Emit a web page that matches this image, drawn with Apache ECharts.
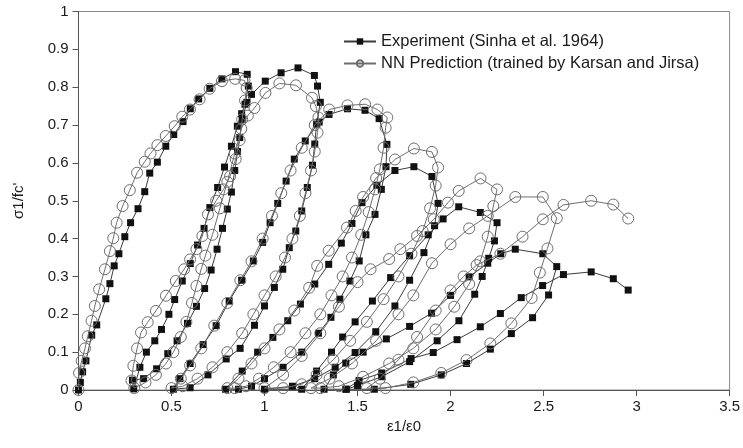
<!DOCTYPE html>
<html><head><meta charset="utf-8">
<script src="https://cdn.jsdelivr.net/npm/echarts@6/dist/echarts.min.js"></script>
<style>html,body{margin:0;padding:0;background:#fff}#c{width:743px;height:448px}</style>
</head><body><div id="c"></div>
<script>
// x = ε1/ε0, y = σ1/fc'
const xTicks = [0, 0.5, 1, 1.5, 2, 2.5, 3, 3.5];
const yTicks = [0, 0.1, 0.2, 0.3, 0.4, 0.5, 0.6, 0.7, 0.8, 0.9, 1];
const seriesNames = ["Experiment (Sinha et al. 1964)", "NN Prediction (trained by Karsan and Jirsa)"];

// ---- Experiment (Sinha et al. 1964) ----
const expRise = [[0,0],[0.01,0.02],[0.022,0.048],[0.04,0.077],[0.071,0.145],[0.098,0.172],[0.147,0.241],[0.169,0.281],[0.192,0.328],[0.217,0.36],[0.249,0.405],[0.28,0.442],[0.32,0.479],[0.356,0.524],[0.383,0.573],[0.424,0.602],[0.469,0.644],[0.512,0.675],[0.562,0.709],[0.601,0.743],[0.646,0.769],[0.706,0.797],[0.771,0.822],[0.844,0.841],[0.907,0.834]];
const expUnload1 = [[0.913,0.803],[0.895,0.755],[0.877,0.73],[0.854,0.697],[0.822,0.644],[0.785,0.589],[0.748,0.535],[0.706,0.482],[0.675,0.427],[0.64,0.383],[0.601,0.334],[0.558,0.288],[0.517,0.239],[0.486,0.2],[0.446,0.16],[0.41,0.13],[0.365,0.1],[0.33,0.06],[0.297,0.003]];
const expReload1 = [[0.29,0.026],[0.35,0.03],[0.42,0.056],[0.48,0.096],[0.53,0.13],[0.586,0.176],[0.634,0.221],[0.678,0.268],[0.713,0.317],[0.745,0.372],[0.774,0.427],[0.8,0.478],[0.822,0.523],[0.84,0.58],[0.855,0.63],[0.867,0.667],[0.88,0.715],[0.905,0.76],[0.93,0.781]];
const expPeak2 = [[1.004,0.816],[1.089,0.838],[1.18,0.851],[1.268,0.831],[1.285,0.803],[1.3,0.76]];
const expUnload2 = [[1.28,0.702],[1.27,0.65],[1.258,0.594],[1.23,0.535],[1.2,0.473],[1.168,0.42],[1.133,0.376],[1.098,0.319],[1.053,0.271],[1.0,0.222],[0.946,0.171],[0.869,0.11],[0.794,0.082],[0.696,0.04],[0.6,0.006],[0.51,0.002]];
const expReload2 = [[0.545,0.03],[0.6,0.07],[0.67,0.12],[0.74,0.17],[0.81,0.235],[0.877,0.29],[0.94,0.341],[0.99,0.39],[1.03,0.442],[1.071,0.493],[1.116,0.552],[1.16,0.61],[1.219,0.658],[1.294,0.708],[1.347,0.728]];
const expPeak3 = [[1.446,0.743],[1.54,0.739],[1.616,0.717],[1.658,0.649]];
const expUnload3 = [[1.653,0.59],[1.628,0.53],[1.594,0.464],[1.545,0.41],[1.509,0.341],[1.459,0.288],[1.405,0.24],[1.357,0.192],[1.29,0.15],[1.2,0.1],[1.1,0.06],[1.0,0.03],[0.93,0.01],[0.86,0.002]];
const expReload3 = [[0.79,0.002],[0.88,0.05],[0.963,0.1],[1.045,0.139],[1.125,0.183],[1.193,0.227],[1.27,0.28],[1.345,0.332],[1.413,0.388],[1.47,0.44],[1.524,0.495],[1.604,0.541],[1.701,0.58]];
const expPeak4 = [[1.803,0.59],[1.9,0.564],[1.933,0.493]];
const expUnload4 = [[1.914,0.434],[1.857,0.363],[1.78,0.29],[1.701,0.222],[1.598,0.154],[1.487,0.099],[1.38,0.06],[1.27,0.03],[1.15,0.01],[1.0,0.002]];
const expReload4 = [[1.2,0.002],[1.28,0.05],[1.36,0.1],[1.42,0.14],[1.487,0.18],[1.58,0.235],[1.678,0.297],[1.78,0.355],[1.88,0.41],[1.96,0.452],[2.044,0.484]];
const expPeak5 = [[2.16,0.469],[2.25,0.442]];
const expUnload5 = [[2.236,0.394],[2.205,0.348],[2.17,0.3],[2.13,0.253],[2.045,0.183],[1.928,0.13],[1.78,0.075],[1.63,0.035],[1.5,0.012],[1.44,0.002]];
const expReload5 = [[1.32,0.002],[1.37,0.04],[1.437,0.071],[1.53,0.1],[1.655,0.135],[1.78,0.168],[1.898,0.203],[2.0,0.25],[2.1,0.299],[2.2,0.335],[2.27,0.36],[2.348,0.372]];
const expPeak6 = [[2.496,0.36],[2.571,0.326]];
const expUnload6 = [[2.527,0.251],[2.441,0.191],[2.327,0.149],[2.214,0.108],[2.086,0.07],[1.95,0.04],[1.786,0.015],[1.59,0.002]];
const expReload6 = [[1.437,0.002],[1.508,0.025],[1.63,0.045],[1.788,0.083],[1.907,0.099],[2.035,0.133],[2.16,0.167],[2.268,0.202],[2.38,0.244],[2.495,0.276],[2.607,0.305]];
const expTail = [[2.756,0.312],[2.875,0.294],[2.955,0.264]];

// ---- NN Prediction (trained by Karsan and Jirsa) ----
const nnRise = [[0,0],[0.003,0.045],[0.017,0.077],[0.035,0.11],[0.05,0.142],[0.07,0.183],[0.088,0.222],[0.111,0.266],[0.142,0.319],[0.169,0.367],[0.187,0.401],[0.205,0.442],[0.237,0.486],[0.276,0.528],[0.315,0.574],[0.356,0.603],[0.387,0.625],[0.424,0.647],[0.469,0.671],[0.517,0.697],[0.558,0.722],[0.599,0.741],[0.651,0.768],[0.705,0.796],[0.771,0.816],[0.842,0.822],[0.892,0.818],[0.904,0.798]];
const nnUnload1 = [[0.895,0.765],[0.88,0.715],[0.866,0.66],[0.845,0.61],[0.815,0.565],[0.78,0.53],[0.74,0.5],[0.696,0.464],[0.666,0.407],[0.634,0.372],[0.6,0.345],[0.568,0.319],[0.523,0.288],[0.47,0.249],[0.416,0.209],[0.372,0.179],[0.336,0.152],[0.315,0.11],[0.295,0.064],[0.285,0.025]];
const nnReload1 = [[0.3,0.005],[0.36,0.02],[0.416,0.04],[0.47,0.07],[0.51,0.1],[0.55,0.14],[0.58,0.18],[0.61,0.23],[0.634,0.275],[0.66,0.32],[0.682,0.355],[0.72,0.41],[0.76,0.48],[0.8,0.55],[0.84,0.625],[0.875,0.69],[0.91,0.725],[0.946,0.745]];
const nnPeak2 = [[1.005,0.785],[1.08,0.81],[1.169,0.805],[1.255,0.772],[1.276,0.75]];
const nnUnload2 = [[1.29,0.72],[1.285,0.68],[1.27,0.63],[1.25,0.58],[1.22,0.52],[1.19,0.46],[1.15,0.4],[1.11,0.35],[1.06,0.3],[1.0,0.25],[0.94,0.2],[0.88,0.15],[0.8,0.1],[0.72,0.06],[0.64,0.03],[0.56,0.01],[0.5,0.005]];
const nnReload2 = [[0.55,0.03],[0.6,0.065],[0.66,0.11],[0.73,0.17],[0.8,0.23],[0.87,0.29],[0.93,0.34],[0.99,0.4],[1.04,0.46],[1.09,0.52],[1.14,0.58],[1.2,0.64],[1.27,0.7],[1.348,0.741]];
const nnPeak3 = [[1.446,0.752],[1.541,0.755],[1.607,0.741],[1.66,0.72],[1.651,0.693]];
const nnUnload3 = [[1.64,0.64],[1.62,0.583],[1.594,0.53],[1.56,0.47],[1.52,0.41],[1.47,0.35],[1.42,0.3],[1.36,0.25],[1.3,0.2],[1.22,0.15],[1.14,0.1],[1.05,0.06],[0.97,0.03],[0.9,0.01],[0.84,0.005]];
const nnReload3 = [[0.8,0.005],[0.86,0.03],[0.93,0.07],[1.0,0.11],[1.08,0.16],[1.16,0.21],[1.24,0.27],[1.283,0.328],[1.345,0.368],[1.443,0.429],[1.49,0.473],[1.53,0.51],[1.6,0.56],[1.701,0.609]];
const nnPeak4 = [[1.803,0.638],[1.9,0.629],[1.933,0.588]];
const nnUnload4 = [[1.92,0.54],[1.89,0.48],[1.85,0.42],[1.79,0.36],[1.72,0.3],[1.64,0.24],[1.55,0.18],[1.46,0.13],[1.37,0.08],[1.28,0.04],[1.2,0.015],[1.1,0.005]];
const nnReload4 = [[1.0,0.005],[1.1,0.04],[1.2,0.09],[1.3,0.15],[1.4,0.22],[1.5,0.285],[1.57,0.319],[1.67,0.346],[1.73,0.372],[1.82,0.407],[1.91,0.451],[1.986,0.495],[2.044,0.526]];
const nnPeak5 = [[2.161,0.559],[2.25,0.53],[2.23,0.486]];
const nnUnload5 = [[2.2,0.405],[2.16,0.34],[2.1,0.28],[2.02,0.22],[1.92,0.16],[1.8,0.11],[1.67,0.07],[1.53,0.035],[1.4,0.01],[1.3,0.005]];
const nnReload5 = [[1.25,0.005],[1.35,0.03],[1.47,0.07],[1.6,0.13],[1.72,0.2],[1.8,0.25],[1.9,0.335],[2.0,0.385],[2.1,0.427],[2.2,0.46],[2.348,0.51]];
const nnPeak6 = [[2.496,0.51],[2.571,0.454]];
const nnUnload6 = [[2.521,0.374],[2.48,0.31],[2.436,0.243],[2.327,0.176],[2.214,0.123],[2.086,0.079],[1.95,0.045],[1.8,0.02],[1.65,0.005]];
const nnReload6 = [[1.55,0.005],[1.62,0.03],[1.72,0.08],[1.82,0.14],[1.92,0.21],[2.0,0.263],[2.07,0.3],[2.14,0.33],[2.268,0.36],[2.387,0.405],[2.496,0.451],[2.607,0.489]];
const nnTail = [[2.756,0.5],[2.875,0.49],[2.955,0.453]];

const expData = [].concat(expRise, expUnload1, expReload1, expPeak2, expUnload2, expReload2, expPeak3, expUnload3, expReload3, expPeak4, expUnload4, expReload4, expPeak5, expUnload5, expReload5, expPeak6, expUnload6, expReload6, expTail);
const nnData = [].concat(nnRise, nnUnload1, nnReload1, nnPeak2, nnUnload2, nnReload2, nnPeak3, nnUnload3, nnReload3, nnPeak4, nnUnload4, nnReload4, nnPeak5, nnUnload5, nnReload5, nnPeak6, nnUnload6, nnReload6, nnTail);

const FONT = "Liberation Sans, Arial, Helvetica, sans-serif";
const chart = echarts.init(document.getElementById('c'), null, {renderer: 'canvas'});
chart.setOption({
  animation: false,
  backgroundColor: '#fff',
  grid: {left: 78.5, right: 11.5, top: 11.5, bottom: 58, show: true, borderColor: '#8a8a8a', borderWidth: 1, backgroundColor: 'transparent'},
  legend: {
    orient: 'vertical', left: 338, top: 28, itemWidth: 32, itemHeight: 8, itemGap: 5,
    textStyle: {fontSize: 16.5, color: '#1a1a1a', fontFamily: FONT},
    data: seriesNames
  },
  xAxis: {
    type: 'value', min: xTicks[0], max: xTicks[xTicks.length - 1], interval: 0.5,
    name: 'ε1/ε0', nameLocation: 'middle', nameGap: 26,
    nameTextStyle: {fontSize: 15, color: '#1a1a1a', fontFamily: FONT},
    axisLine: {show: true, lineStyle: {color: '#555', width: 1}},
    axisTick: {show: true, length: 6, inside: false, lineStyle: {color: '#555'}},
    axisLabel: {fontSize: 15, color: '#1a1a1a', margin: 9, fontFamily: FONT},
    splitLine: {show: false}
  },
  yAxis: {
    type: 'value', min: yTicks[0], max: yTicks[yTicks.length - 1], interval: 0.1,
    name: "σ1/fc'", nameLocation: 'middle', nameGap: 52, nameRotate: 90,
    nameTextStyle: {fontSize: 15, color: '#1a1a1a', fontFamily: FONT},
    axisLine: {show: true, lineStyle: {color: '#555', width: 1}},
    axisTick: {show: true, length: 6, inside: false, lineStyle: {color: '#555'}},
    axisLabel: {fontSize: 15, color: '#1a1a1a', margin: 10, fontFamily: FONT},
    splitLine: {show: false}
  },
  series: [
    {
      name: seriesNames[0], type: 'line', data: expData,
      symbol: 'rect', symbolSize: 7,
      itemStyle: {color: '#111'},
      lineStyle: {color: '#3a3a3a', width: 1},
      z: 2
    },
    {
      name: seriesNames[1], type: 'line', data: nnData,
      symbol: 'circle', symbolSize: 11,
      itemStyle: {color: 'rgba(255,255,255,0)', borderColor: '#6e6e6e', borderWidth: 1},
      lineStyle: {color: '#6e6e6e', width: 1},
      z: 3
    }
  ]
});
</script>
</body></html>
